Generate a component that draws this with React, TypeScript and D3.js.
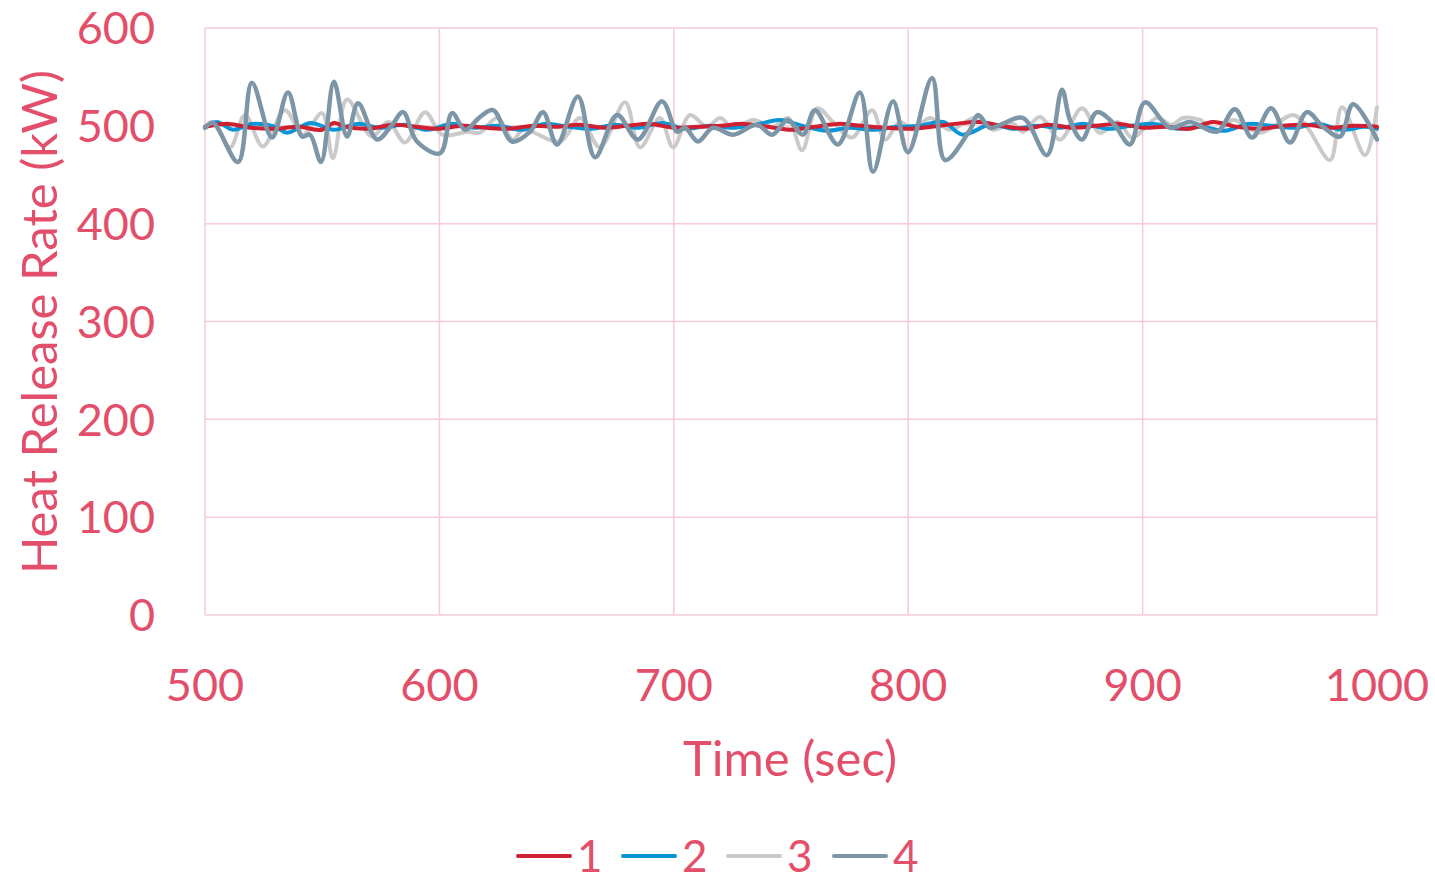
import * as d3 from "d3";

// time ticks + value ticks
const xTicks = [500, 600, 700, 800, 900, 1000];
const yTicks = [0, 100, 200, 300, 400, 500, 600];
const seriesNames = ["1", "2", "3", "4"];
const seriesColors = ["#d01f30", "#0a95d6", "#cacaca", "#7d96a7"];

// series 1 (red) - almost flat
const s1Time = [500, 510, 520, 530, 540, 550, 555, 560, 570, 580, 590, 600, 610, 620, 630, 640, 650, 660, 670, 680, 690, 700, 710, 720, 730, 740, 750, 760, 770, 780, 790, 800, 810, 820, 830, 840, 850, 860, 870, 880, 890, 900, 910, 920, 930, 940, 950, 960, 970, 980, 990, 1000];
const s1Value = [499, 502, 498, 497, 499, 496, 503, 499, 497, 501, 499, 497, 500, 498, 497, 500, 499, 501, 498, 500, 502, 498, 499, 500, 502, 499, 496, 499, 502, 500, 498, 497, 499, 502, 504, 500, 497, 501, 498, 500, 502, 498, 499, 497, 504, 499, 497, 500, 501, 498, 500, 499];

// series 2 (blue)
const s2Time = [500, 505, 512, 520, 530, 535, 545, 555, 565, 575, 585, 595, 605, 615, 625, 635, 645, 655, 665, 675, 685, 695, 705, 715, 725, 735, 745, 755, 765, 775, 785, 795, 805, 815, 823, 835, 845, 855, 865, 875, 885, 895, 905, 915, 925, 935, 945, 955, 965, 975, 985, 995, 1000];
const s2Value = [498, 504, 496, 502, 499, 493, 503, 496, 502, 498, 501, 496, 502, 498, 500, 496, 502, 499, 497, 501, 498, 503, 497, 500, 498, 501, 506, 500, 495, 498, 496, 499, 500, 504, 491, 501, 497, 500, 498, 502, 497, 500, 502, 497, 499, 495, 502, 500, 498, 502, 496, 499, 497];

// series 3 (light grey)
const s3Time = [500, 503.4, 510.7, 517.1, 524.7, 534.1, 541.8, 549.9, 554.6, 560.6, 571.2, 578.1, 585.3, 593.9, 601.1, 612.2, 617.3, 624.6, 631.4, 635.7, 651.5, 660, 668.5, 679.2, 685.6, 694.1, 699.7, 706.9, 714.2, 719.7, 725.3, 733.8, 742.3, 748.7, 754.7, 761.1, 767.9, 776, 784.6, 790.1, 796.5, 802, 809.3, 817.8, 829.4, 836.2, 844.3, 849, 856.2, 864.8, 874.1, 881.8, 889.5, 895.5, 906.1, 912.5, 917.2, 924.5, 931.7, 938.6, 950.1, 964.2, 970.1, 980, 985.1, 994.9, 1000];
const s3Value = [498, 504, 478, 511, 479, 516, 491, 513, 467, 527, 489, 504, 483, 514, 491, 494, 493, 508, 486, 496, 484, 508, 478, 524, 478, 508, 478, 511, 499, 508, 498, 506, 499, 508, 475, 518, 504, 488, 516, 486, 504, 496, 508, 496, 509, 496, 503, 494, 509, 486, 518, 493, 504, 488, 508, 501, 508, 506, 494, 506, 493, 511, 499, 465, 519, 470, 519];

// series 4 (grey-blue) - largest swings
const s4Time = [500, 503.4, 514.1, 520, 528.6, 535.4, 541.4, 544.8, 549.5, 555, 560.6, 565.3, 573.4, 579.8, 584.5, 590.4, 600.3, 605.4, 611, 617.3, 622.9, 631, 638.7, 644.2, 650.2, 659.1, 666.4, 675.8, 684.7, 695, 701.4, 704.8, 710.3, 716.7, 725.3, 735.5, 742, 748.7, 755.1, 760.2, 770, 779.4, 785, 793.5, 799.9, 810.2, 815.7, 826.4, 829.8, 834.9, 839.2, 849, 859.2, 865.6, 869, 874.1, 880.5, 887.4, 894.6, 901, 911.7, 920.2, 931.7, 939.4, 946.7, 954.8, 962.9, 970.1, 977, 984.2, 989.8, 1000];
const s4Value = [498, 503, 463, 544, 488, 534, 489, 491, 463, 545, 489, 523, 486, 501, 514, 484, 472, 513, 496, 509, 516, 484, 494, 514, 481, 530, 468, 511, 486, 525, 494, 498, 484, 498, 491, 501, 491, 506, 491, 516, 481, 534, 453, 525, 473, 549, 465, 496, 511, 498, 501, 508, 470, 537, 506, 486, 514, 503, 481, 524, 498, 504, 494, 517, 488, 518, 483, 514, 499, 489, 522, 486];

const W = 1435;
const H = 880;
const plot = { left: 205, top: 28, right: 1377, bottom: 615 };
const textColor = "#e34f6b";
const gridColor = "#f6cbd5";
const font = "Lato, 'Open Sans', sans-serif";

const App = () => {
  const x = d3.scaleLinear().domain([500, 1000]).range([plot.left, plot.right]);
  const y = d3.scaleLinear().domain([0, 600]).range([plot.bottom, plot.top]);

  const line = d3
    .line<[number, number]>()
    .x((d) => x(d[0]))
    .y((d) => y(d[1]))
    .curve(d3.curveCatmullRom.alpha(0.5));

  const series = [
    d3.zip(s1Time, s1Value),
    d3.zip(s2Time, s2Value),
    d3.zip(s3Time, s3Value),
    d3.zip(s4Time, s4Value),
  ] as [number, number][][];

  const legendX = [518, 623, 728, 834];

  return (
    <svg
      width={W}
      height={H}
      style={{ position: "absolute", left: 0, top: 0, background: "#fff" }}
      fontFamily={font}
    >
      {/* gridlines */}
      {yTicks.map((t) => (
        <line key={"gy" + t} x1={plot.left} x2={plot.right} y1={y(t)} y2={y(t)} stroke={gridColor} strokeWidth={1.5} />
      ))}
      {xTicks.map((t) => (
        <line key={"gx" + t} x1={x(t)} x2={x(t)} y1={plot.top} y2={plot.bottom} stroke={gridColor} strokeWidth={1.5} />
      ))}

      {/* lines: 3 at back, then 2, 1, 4 on top */}
      {[2, 1, 0, 3].map((i) => (
        <path
          key={"s" + i}
          d={line(series[i]) || ""}
          fill="none"
          stroke={seriesColors[i]}
          strokeWidth={i === 3 ? 4.5 : 4}
          strokeLinejoin="round"
          strokeLinecap="round"
        />
      ))}

      {/* y tick labels */}
      {yTicks.map((t) => (
        <text key={"ty" + t} x={155} y={y(t)} dy="0.36em" textAnchor="end" fontSize={45} fill={textColor}>
          {t}
        </text>
      ))}
      {/* x tick labels */}
      {xTicks.map((t) => (
        <text key={"tx" + t} x={x(t)} y={685} dy="0.36em" textAnchor="middle" fontSize={45} fill={textColor}>
          {t}
        </text>
      ))}

      <text x={790} y={758} dy="0.36em" textAnchor="middle" fontSize={49} fill={textColor}>
        Time (sec)
      </text>
      <text
        transform={`translate(39,322) rotate(-90)`}
        dy="0.36em"
        textAnchor="middle"
        fontSize={49}
        fill={textColor}
      >
        Heat Release Rate (kW)
      </text>

      {/* legend */}
      {seriesNames.map((n, i) => (
        <g key={"lg" + n} transform={`translate(${legendX[i]},856)`}>
          <line x1={0} x2={52} y1={0} y2={0} stroke={seriesColors[i]} strokeWidth={4} strokeLinecap="round" />
          <text x={59} y={0} dy="0.36em" fontSize={44} fill={textColor}>
            {n}
          </text>
        </g>
      ))}
    </svg>
  );
};

export default App;
